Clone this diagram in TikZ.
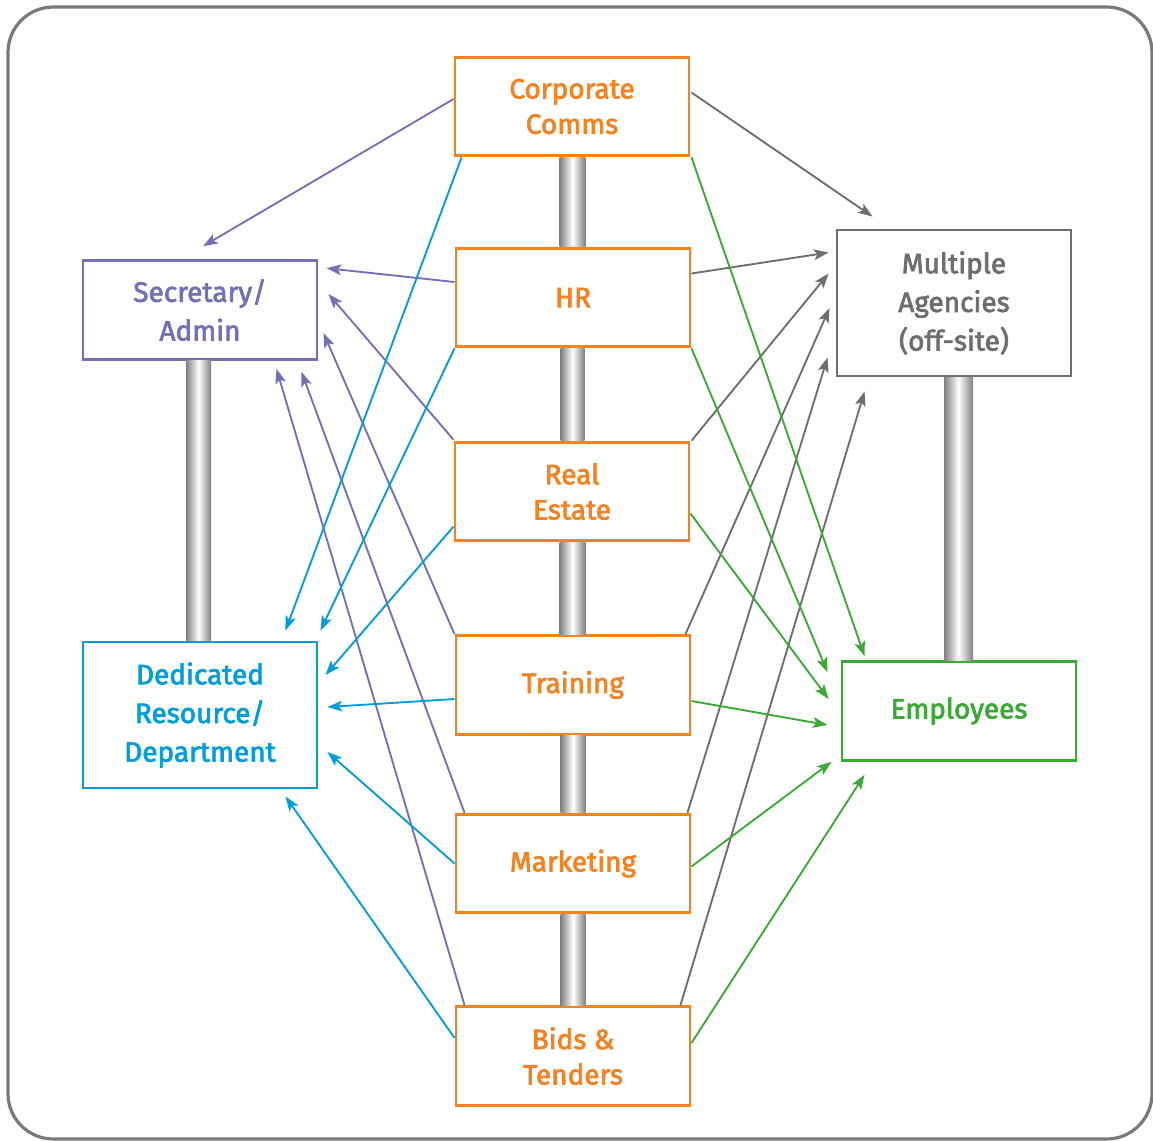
\documentclass[tikz,border=0pt]{standalone}
\usepackage{fontspec}
\newfontfamily\boxfont{Fira Sans}[FakeBold=2.5]
\usetikzlibrary{arrows.meta}

\definecolor{corange}{RGB}{245,130,32}
\definecolor{cpurple}{RGB}{116,112,182}
\definecolor{cblue}{RGB}{0,158,219}
\definecolor{cgrey}{RGB}{109,110,113}
\definecolor{cgreen}{RGB}{58,170,53}
\definecolor{cframe}{RGB}{120,121,124}
\definecolor{cpipe}{RGB}{128,128,130}

\tikzset{
  box/.style={draw, fill=white, line width=2.2pt, minimum width=175.5pt,
    minimum height=74pt, align=center, inner sep=0pt,
    font=\boxfont\fontsize{21}{26.5}\selectfont},
  sidebox/.style={box, font=\boxfont\fontsize{21}{29}\selectfont},
  pipe/.style={left color=cpipe, right color=cpipe, middle color=white},
  link/.style={line width=1.4pt, -{Stealth[length=11pt,width=8pt,inset=2.5pt]}},
}

\begin{document}
\begin{tikzpicture}[x=0.75pt,y=0.75pt,yscale=-1,xscale=1]
\useasboundingbox (0,0) rectangle (1153,1140);

%Frame
\draw [cframe, line width=2.4pt, rounded corners=34pt] (8,7) rectangle (1152,1139);

%Centre boxes
\node [box, draw=corange, text=corange] (cc) at (572,106.5) {Corporate\\Comms};
\node [box, draw=corange, text=corange] (hr) at (573,297.5) {HR};
\node [box, draw=corange, text=corange] (re) at (572,491.5) {Real\\Estate};
\node [box, draw=corange, text=corange] (tr) at (573,685) {Training};
\node [box, draw=corange, text=corange] (mk) at (573,863.5) {Marketing};
\node [box, draw=corange, text=corange] (bt) at (573,1056) {Bids \&\\Tenders};

%Side boxes
\node [sidebox, draw=cpurple, text=cpurple] (sec) at (200,310) {Secretary/\\Admin};
\node [sidebox, draw=cblue, text=cblue, minimum height=109.5pt] (ded) at (200,715) {Dedicated\\Resource/\\Department};
\node [sidebox, draw=cgrey, text=cgrey, minimum height=109.5pt] (agy) at (954,303) {Multiple\\Agencies\\(off-site)};
\node [sidebox, draw=cgreen, text=cgreen] (emp) at (959,711) {Employees};

%Pipes
\shade [pipe] ([shift={(-12.5,0)}]cc.south) rectangle ([shift={(12.5,0)}]hr.north);
\shade [pipe] ([shift={(-12.5,0)}]hr.south) rectangle ([shift={(12.5,0)}]re.north);
\shade [pipe] ([shift={(-12.5,0)}]re.south) rectangle ([shift={(12.5,0)}]tr.north);
\shade [pipe] ([shift={(-12.5,0)}]tr.south) rectangle ([shift={(12.5,0)}]mk.north);
\shade [pipe] ([shift={(-12.5,0)}]mk.south) rectangle ([shift={(12.5,0)}]bt.north);
\shade [pipe] ([shift={(-14,0)}]sec.south) rectangle ([shift={(11,0)}]ded.north);
\shade [pipe] ([shift={(-10,0)}]agy.south) rectangle ([shift={(14,0)}]emp.north);

%To Secretary/Admin
\draw [link, cpurple] ([shift={(0,-7.5)}]cc.west) -- ([shift={(3,-13)}]sec.north);
\draw [link, cpurple] ([shift={(0,-15.5)}]hr.west) -- ([shift={(8,9)}]sec.north east);
\draw [link, cpurple] ([shift={(0,-1)}]re.north west) -- ([shift={(10,-16)}]sec.east);
\draw [link, cpurple] (tr.north west) -- ([shift={(5,23)}]sec.east);
\draw [link, cpurple] ([shift={(10,0)}]mk.north west) -- ([shift={(-17,11)}]sec.south east);
\draw [link, cpurple] ([shift={(10,0)}]bt.north west) -- ([shift={(-42,8)}]sec.south east);

%To Dedicated Resource
\draw [link, cblue] ([shift={(8,0)}]cc.south west) -- ([shift={(-33,-10)}]ded.north east);
\draw [link, cblue] (hr.south west) -- ([shift={(2,-10)}]ded.north east);
\draw [link, cblue] ([shift={(0,35)}]re.west) -- ([shift={(7,-40)}]ded.east);
\draw [link, cblue] ([shift={(0,14)}]tr.west) -- ([shift={(9,-8)}]ded.east);
\draw [link, cblue] (mk.west) -- ([shift={(9,37)}]ded.east);
\draw [link, cblue] ([shift={(0,-18)}]bt.west) -- ([shift={(-33,7)}]ded.south east);

%To Multiple Agencies
\draw [link, cgrey] ([shift={(1,-14)}]cc.east) -- ([shift={(37,-12)}]agy.north west);
\draw [link, cgrey] ([shift={(0,-24)}]hr.east) -- ([shift={(-7,24)}]agy.north west);
\draw [link, cgrey] ([shift={(1,0)}]re.north east) -- ([shift={(-7,45)}]agy.north west);
\draw [link, cgrey] ([shift={(-6,0)}]tr.north east) -- ([shift={(-6,5)}]agy.west);
\draw [link, cgrey] ([shift={(-4,0)}]mk.north east) -- ([shift={(-8,-20)}]agy.south west);
\draw [link, cgrey] ([shift={(-11,0)}]bt.north east) -- ([shift={(29,14)}]agy.south west);

%To Employees
\draw [link, cgreen] ([shift={(1,0)}]cc.south east) -- ([shift={(24,-4)}]emp.north west);
\draw [link, cgreen] (hr.south east) -- ([shift={(-13,12)}]emp.north west);
\draw [link, cgreen] ([shift={(0,22)}]re.east) -- ([shift={(-12,-12)}]emp.west);
\draw [link, cgreen] ([shift={(0,16)}]tr.east) -- ([shift={(-13,14)}]emp.west);
\draw [link, cgreen] ([shift={(0,3)}]mk.east) -- ([shift={(-9,0)}]emp.south west);
\draw [link, cgreen] ([shift={(0,-13)}]bt.east) -- ([shift={(24,13)}]emp.south west);

\end{tikzpicture}
\end{document}
